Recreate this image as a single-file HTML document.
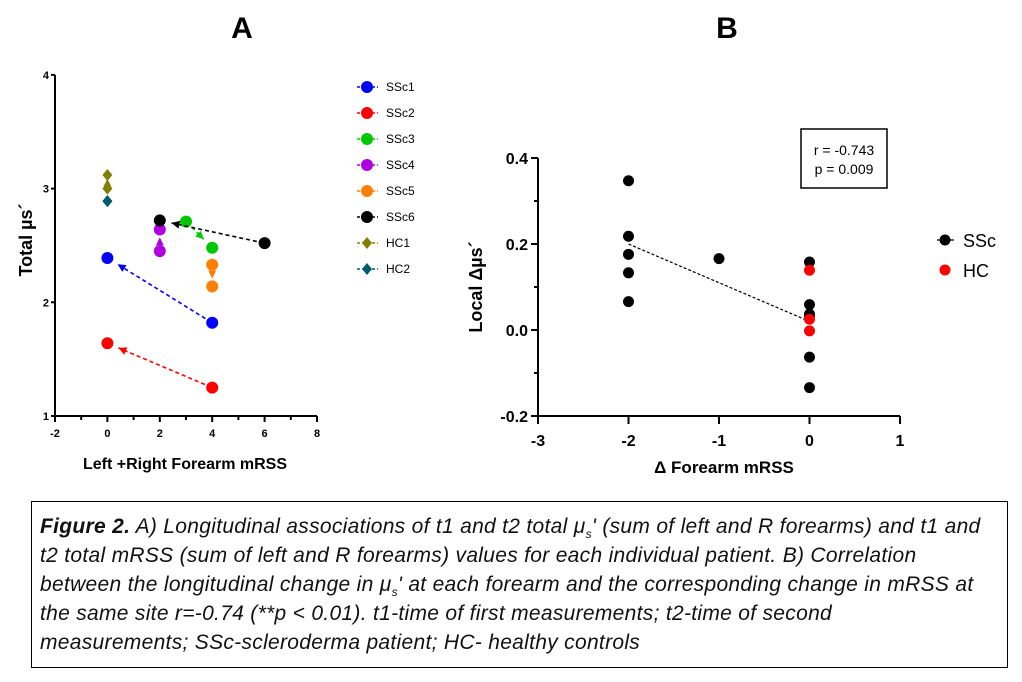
<!DOCTYPE html>
<html><head><meta charset="utf-8"><style>
body{margin:0;background:#fff;width:1022px;height:682px;overflow:hidden;font-family:"Liberation Sans",sans-serif}
svg{position:absolute;left:0;top:0}
#cap{position:absolute;left:31px;top:501px;width:977px;height:167px;border:1.5px solid #000;box-sizing:border-box;font-style:italic;font-size:21px;line-height:29px;padding:10px 0 0 8px;white-space:nowrap;color:#111;letter-spacing:0.3px}
.sb{font-size:12px;position:relative;top:5px;line-height:0}
</style></head><body>
<svg id="s" width="1022" height="500"></svg>
<div id="cap"><b>Figure 2.</b> A) Longitudinal associations of t1 and t2 total μ<span class="sb">s</span>' (sum of left and R forearms) and t1 and<br>t2 total mRSS (sum of left and R forearms) values for each individual patient. B) Correlation<br>between the longitudinal change in μ<span class="sb">s</span>' at each forearm and the corresponding change in mRSS at<br>the same site r=-0.74 (**p &lt; 0.01). t1-time of first measurements; t2-time of second<br>measurements; SSc-scleroderma patient; HC- healthy controls</div>
<script>
const seriesNames=["SSc1","SSc2","SSc3","SSc4","SSc5","SSc6","HC1","HC2"];
const seriesColors=["#0000ff","#ff0000","#00c800","#b000e0","#ff8000","#000000","#808000","#005a6e"];
const t1x=[4,4,3,2,4,6,0,0];
const t1y=[1.82,1.25,2.71,2.45,2.33,2.52,3.0,2.89];
const t2x=[0,0,4,2,4,2,0,0];
const t2y=[2.39,1.64,2.48,2.64,2.14,2.72,3.12,2.89];
const aXTicks=[-2,0,2,4,6,8];
const aYTicks=[1,2,3,4];
const bSScX=[-2,-2,-2,-2,-2,-1,0,0,0,0,0,0];
const bSScY=[0.347,0.218,0.176,0.133,0.066,0.166,0.158,0.059,0.037,0.033,-0.063,-0.134];
const bHCX=[0,0,0];
const bHCY=[0.139,0.025,-0.002];
const trendX=[-2,0];
const trendY=[0.2,0.02];
const bXTicks=[-3,-2,-1,0,1];
const bYTicks=[-0.2,0.0,0.2,0.4];
const s=document.getElementById('s');const NS='http://www.w3.org/2000/svg';
function el(t,a,txt){const e=document.createElementNS(NS,t);for(const k in a)e.setAttribute(k,a[k]);if(txt!==undefined)e.textContent=txt;s.appendChild(e);return e;}
const ax=v=>55+(v+2)*26.2, ay=v=>416-(v-1)*113.7;
const bx=v=>538+(v+3)*90.5, by=v=>416-(v+0.2)*430;
let e=el('text',{x:242,y:38,'font-size':30,'font-weight':'bold','text-anchor':'middle'},'A');

e=el('text',{x:727,y:38,'font-size':30,'font-weight':'bold','text-anchor':'middle'},'B');

e=el('path',{d:`M${ax(-2)},${ay(4)}V${ay(1)}H${ax(8)}`,stroke:'#000','stroke-width':2,fill:'none'});

aYTicks.forEach(v=>{el('line',{x1:ax(-2)-4,x2:ax(-2),y1:ay(v),y2:ay(v),stroke:'#000','stroke-width':2});
 e=el('text',{x:ax(-2)-6,y:ay(v)+4,'font-size':11,'font-weight':'bold','text-anchor':'end'},v);
 });
for(let v=-2;v<=8;v++){el('line',{x1:ax(v),x2:ax(v),y1:ay(1),y2:ay(1)+(v%2==0?6:4),stroke:'#000','stroke-width':2});}
aXTicks.forEach(v=>{e=el('text',{x:ax(v),y:ay(1)+21,'font-size':11,'font-weight':'bold','text-anchor':'middle'},v);
 });
e=el('text',{x:185,y:469,'font-size':16,'font-weight':'bold','text-anchor':'middle'},'Left +Right Forearm mRSS');

e=el('text',{x:0,y:0,'font-size':18,'font-weight':'bold','text-anchor':'middle',transform:'translate(32,240) rotate(-90)'},'Total µs´');

function marker(x,y,c,diamond,r,name){let m;
 if(diamond)m=el('polygon',{points:`${x},${y-r-1} ${x+r},${y} ${x},${y+r+1} ${x-r},${y}`,fill:c});
 else m=el('circle',{cx:x,cy:y,r:r,fill:c});
 }
seriesNames.forEach((n,i)=>{
 const x1=ax(t1x[i]),y1=ay(t1y[i]),x2=ax(t2x[i]),y2=ay(t2y[i]);const c=seriesColors[i];const dia=n.startsWith('HC');
 const d=Math.hypot(x2-x1,y2-y1);
 if(d>1){const ux=(x2-x1)/d,uy=(y2-y1)/d;const ex=x2-ux*12,ey=y2-uy*12;
  if(d>30){e=el('line',{x1:x1+ux*8,y1:y1+uy*8,x2:ex,y2:ey,stroke:c,'stroke-width':1.6,'stroke-dasharray':'4,3'});
   }
  const hx=d>30?ex:(x1+x2)/2+ux*3,hy=d>30?ey:(y1+y2)/2+uy*3;
  el('polygon',{points:`${hx},${hy} ${hx-ux*8-uy*4},${hy-uy*8+ux*4} ${hx-ux*8+uy*4},${hy-uy*8-ux*4}`,fill:c});}
 marker(x1,y1,c,dia,dia?5:6,n+'-t1');marker(x2,y2,c,dia,dia?5:6,n+'-t2');
 const ly=87+i*26;
 el('line',{x1:357,x2:378,y1:ly,y2:ly,stroke:c,'stroke-width':1.5,'stroke-dasharray':'3,2'});
 marker(367,ly,c,dia,dia?5:6,'legend-'+n+'-marker');
 e=el('text',{x:386,y:ly+4,'font-size':12},n);
});
e=el('path',{d:`M${bx(-3)},${by(0.4)}V${by(-0.2)}H${bx(1)}`,stroke:'#000','stroke-width':2,fill:'none'});

for(let k=0;k<=6;k++){const v=-0.2+k*0.1;el('line',{x1:bx(-3)-(k%2==0?7:4),x2:bx(-3),y1:by(v),y2:by(v),stroke:'#000','stroke-width':2});}
bYTicks.forEach(v=>{e=el('text',{x:bx(-3)-10,y:by(v)+6,'font-size':16,'font-weight':'bold','text-anchor':'end'},v.toFixed(1));
 });
bXTicks.forEach(v=>{el('line',{x1:bx(v),x2:bx(v),y1:by(-0.2),y2:by(-0.2)+8,stroke:'#000','stroke-width':2});
 e=el('text',{x:bx(v),y:by(-0.2)+30,'font-size':16,'font-weight':'bold','text-anchor':'middle'},v);
 });
e=el('text',{x:724,y:473,'font-size':17,'font-weight':'bold','text-anchor':'middle'},'Δ Forearm mRSS');

e=el('text',{x:0,y:0,'font-size':18,'font-weight':'bold','text-anchor':'middle',transform:'translate(482,287) rotate(-90)'},'Local Δµs´');

e=el('line',{x1:bx(trendX[0]),y1:by(trendY[0]),x2:bx(trendX[1]),y2:by(trendY[1]),stroke:'#000','stroke-width':1.2,'stroke-dasharray':'3,2'});

bSScX.forEach((v,i)=>marker(bx(v),by(bSScY[i]),'#000',false,5.5,'ssc-point'));
bHCX.forEach((v,i)=>marker(bx(v),by(bHCY[i]),'#ff0000',false,5.5,'hc-point'));
e=el('rect',{x:801,y:129,width:86,height:59,fill:'none',stroke:'#000','stroke-width':1.5});

e=el('text',{x:844,y:155,'font-size':14,'text-anchor':'middle'},'r = -0.743');
e=el('text',{x:844,y:174,'font-size':14,'text-anchor':'middle'},'p = 0.009');
el('line',{x1:937,x2:954,y1:240,y2:240,stroke:'#000','stroke-width':1.2});
marker(945,240,'#000',false,5.5,'legend-ssc-marker');
e=el('text',{x:963,y:247,'font-size':18},'SSc');
marker(945,270,'#ff0000',false,5.5,'legend-hc-marker');
e=el('text',{x:963,y:277,'font-size':18},'HC');
</script>
</body></html>
